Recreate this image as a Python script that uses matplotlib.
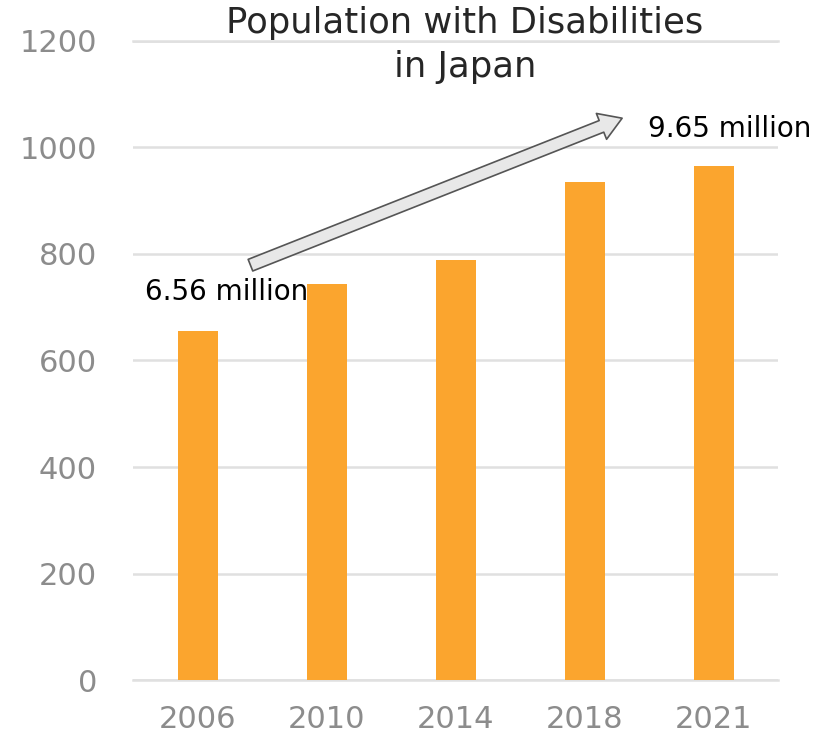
import matplotlib
matplotlib.use("Agg")
import matplotlib.pyplot as plt
import numpy as np

# Data (people with disabilities in Japan, in ten-thousands)
years = ['2006', '2010', '2014', '2018', '2021']
population = [656, 744, 788, 936, 965]
y_ticks = [0, 200, 400, 600, 800, 1000, 1200]

bar_color = '#FBA52E'
tick_color = '#8c8c8c'
grid_color = '#e0e0e0'

fig = plt.figure(figsize=(8.21, 7.41), dpi=100)
ax = fig.add_axes([0.162, 0.0823, 0.786, 0.8624])

x = np.arange(len(years))
ax.bar(x, population, width=0.31, color=bar_color, zorder=3)

ax.set_xlim(-0.5, len(years) - 0.5)
ax.set_ylim(0, 1200)
ax.set_yticks(y_ticks)
ax.set_xticks(x)
ax.set_xticklabels(years)
ax.tick_params(axis='both', length=0, labelsize=22, colors=tick_color)
ax.tick_params(axis='y', pad=26)
ax.tick_params(axis='x', pad=18)
ax.grid(axis='y', color=grid_color, lw=1.8, zorder=0)
# full-width baseline / top line (grid lines at the limits get clipped)
for yv in (0, 1200):
    ax.axhline(yv, color=grid_color, lw=1.8, zorder=0, clip_on=False)
for s in ax.spines.values():
    s.set_visible(False)

# growth arrow
ax.annotate('', xy=(3.29, 1055), xytext=(0.41, 779),
            arrowprops=dict(arrowstyle='simple,head_length=0.8,head_width=1.0,tail_width=0.45',
                            fc='#e8e8e8', ec='#555555', lw=1.2, mutation_scale=20,
                            shrinkA=0, shrinkB=0),
            zorder=5)

ax.text(-0.41, 728, '6.56 million', fontsize=20, color='black', va='center', ha='left', zorder=6)
ax.text(3.49, 1035, '9.65 million', fontsize=20, color='black', va='center', ha='left', zorder=6)

fig.text(465 / 821, 1 - 45 / 741, 'Population with Disabilities\nin Japan',
         ha='center', va='center', fontsize=25.5, color='#262626', linespacing=1.4)

fig.savefig('out.png', dpi=100)
